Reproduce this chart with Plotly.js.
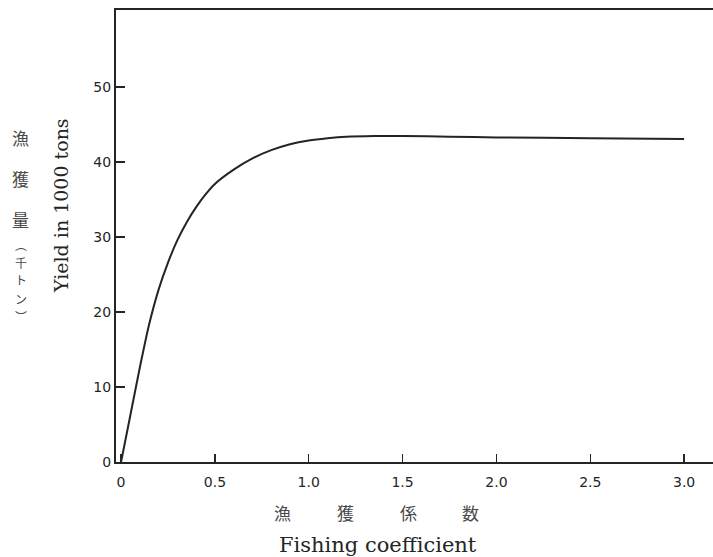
<!DOCTYPE html>
<html>
<head>
<meta charset="utf-8">
<script src="https://cdn.plot.ly/plotly-3.0.1.min.js"></script>
<style>html,body{margin:0;padding:0;background:#fff;}#chart{width:713px;height:557px;}</style>
</head>
<body>
<div id="chart"></div>
<script>
const fishingCoefficient = [0, 0.05, 0.1, 0.15, 0.2, 0.25, 0.3, 0.35, 0.4, 0.45, 0.5, 0.6, 0.7, 0.8, 0.9, 1.0, 1.1, 1.2, 1.35, 1.5, 1.75, 2.0, 2.5, 3.0];
const yieldThousandTons = [0, 6.3, 12.6, 18.4, 23.0, 26.6, 29.6, 32.0, 34.0, 35.7, 37.1, 39.0, 40.5, 41.6, 42.4, 42.9, 43.2, 43.4, 43.5, 43.5, 43.4, 43.3, 43.2, 43.1];
const xTickVals = [0, 0.5, 1.0, 1.5, 2.0, 2.5, 3.0];
const xTickText = ['0', '0.5', '1.0', '1.5', '2.0', '2.5', '3.0'];
const yTickVals = [0, 10, 20, 30, 40, 50];
const yTickText = ['0', '10', '20', '30', '40', '50'];
const yTitleJa = ['漁', '獲', '量', '︵', '千', 'ト', 'ン', '︶'];
const xTitleJa = ['漁', '獲', '係', '数'];

const trace = {
  x: fishingCoefficient,
  y: yieldThousandTons,
  type: 'scatter',
  mode: 'lines',
  line: {color: '#1f2624', width: 2, shape: 'spline', smoothing: 0.6},
  hoverinfo: 'skip'
};

const jp = "'Noto Sans CJK JP', sans-serif";
const serif = "'DejaVu Serif', serif";
const ink = '#1f2624';

// layout positions (pixels) for the stacked Japanese titles
const plotL = 116, plotW = 597, plotB = 462, plotH = 452;
const px = v => (v - plotL) / plotW;
const py = v => (plotB - v) / plotH;
const yJaPos = [137, 178, 220, 244, 262, 280, 298, 316];
const yJaSize = [17, 17, 17, 12, 12, 12, 12, 12];
const xJaPos = [282, 345, 408, 471];

const annotations = [
  {xref: 'paper', yref: 'paper', x: px(61), y: py(206), xanchor: 'center', yanchor: 'middle',
   text: 'Yield in 1000 tons', textangle: -90, showarrow: false,
   font: {family: serif, size: 19, color: ink}},
  {xref: 'paper', yref: 'paper', x: px(378), y: py(545), xanchor: 'center', yanchor: 'middle',
   text: 'Fishing coefficient', showarrow: false,
   font: {family: serif, size: 21, color: ink}}
];
yTitleJa.forEach((ch, i) => annotations.push({
  xref: 'paper', yref: 'paper', x: px(21), y: py(yJaPos[i]), xanchor: 'center', yanchor: 'middle',
  text: ch, showarrow: false,
  font: {family: jp, size: yJaSize[i], color: '#4a4a4a'}
}));
xTitleJa.forEach((ch, i) => annotations.push({
  xref: 'paper', yref: 'paper', x: px(xJaPos[i]), y: py(512), xanchor: 'center', yanchor: 'middle',
  text: ch, showarrow: false,
  font: {family: jp, size: 17, color: '#4a4a4a'}
}));

const layout = {
  width: 713, height: 557,
  margin: {l: 116, r: 0, t: 10, b: 95},
  paper_bgcolor: '#ffffff', plot_bgcolor: '#ffffff',
  showlegend: false,
  xaxis: {
    range: [-0.027, 3.154],
    tickvals: xTickVals, ticktext: xTickText,
    ticks: 'inside', ticklen: 8, tickwidth: 1.5, tickcolor: ink,
    ticklabelstandoff: 6,
    showline: true, linecolor: ink, linewidth: 2, mirror: true,
    showgrid: false, zeroline: false,
    tickfont: {family: "'DejaVu Sans', sans-serif", size: 14, color: ink}
  },
  yaxis: {
    range: [0, 60.3],
    tickvals: yTickVals, ticktext: yTickText,
    ticks: 'inside', ticklen: 9, tickwidth: 1.5, tickcolor: ink,
    showline: true, linecolor: ink, linewidth: 2,
    showgrid: false, zeroline: false,
    tickfont: {family: "'DejaVu Sans', sans-serif", size: 14, color: ink}
  },
  annotations: annotations
};

Plotly.newPlot('chart', [trace], layout, {displayModeBar: false, staticPlot: true});
</script>
</body>
</html>
